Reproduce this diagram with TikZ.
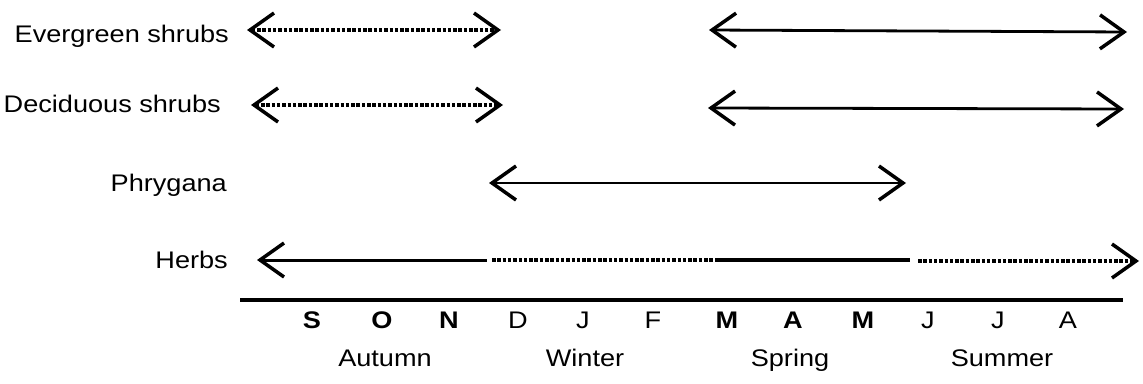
\documentclass[tikz,border=0pt]{standalone}
\usepackage{fontspec}
\newfontfamily\labfont[FakeStretch=1.13]{Liberation Sans}
\usetikzlibrary{arrows.meta}
\tikzset{
  barb/.tip={Straight Barb[length=24pt,width=34pt,line width=3.5pt]},
  period/.style={line width=2.8pt},
  uncertain/.style={line width=3.2pt,dash pattern=on 3.5pt off 1.8pt},
  peak/.style={line width=4.5pt},
  herbline/.style={line width=3pt},
  axisline/.style={line width=3.4pt},
  plant/.style={font=\labfont\fontsize{24}{28}\selectfont,anchor=base east,inner sep=0pt},
  month/.style={font=\labfont\fontsize{24}{28}\selectfont,anchor=base,inner sep=0pt},
  bmonth/.style={month,font=\labfont\bfseries\fontsize{24}{28}\selectfont},
  season/.style={month}
}
\begin{document}
\begin{tikzpicture}[x=1pt,y=-1pt]
\useasboundingbox (0,0) rectangle (1143,383);

% plant groups
\node[plant] (ever)  at (229,42)  {Evergreen shrubs};
\node[plant] (decid) at (221,112) {Deciduous shrubs};
\node[plant] (phry)  at (227,191) {Phrygana};
\node[plant] (herb)  at (228,268) {Herbs};

% evergreen shrubs
\coordinate (e1) at (247,30);  \coordinate (e2) at (501,30);
\coordinate (e3) at (709,30);  \coordinate (e4) at (1127,32);
\draw[uncertain,barb-barb] (e1) -- (e2);
\draw[period,barb-barb] (e3) -- (e4);

% deciduous shrubs
\coordinate (d1) at (251,105); \coordinate (d2) at (503,105);
\coordinate (d3) at (708,108); \coordinate (d4) at (1124,109);
\draw[uncertain,barb-barb] (d1) -- (d2);
\draw[period,barb-barb] (d3) -- (d4);

% phrygana
\coordinate (p1) at (489,183); \coordinate (p2) at (906,183);
\draw[period,barb-barb] (p1) -- (p2);

% herbs
\coordinate (h1) at (257,260); \coordinate (h2) at (487,260);
\coordinate (h3) at (492,260); \coordinate (h4) at (713,260);
\coordinate (h5) at (715,260); \coordinate (h6) at (910,260);
\coordinate (h7) at (918,261); \coordinate (h8) at (1139,261);
\draw[herbline,barb-] (h1) -- (h2);
\draw[uncertain] (h3) -- (h4);
\draw[peak] (h5) -- (h6);
\draw[uncertain,-barb] (h7) -- (h8);

% time axis
\coordinate (a1) at (240,300); \coordinate (a2) at (1123,300);
\draw[axisline] (a1) -- (a2);

% months
\node[bmonth] (mS)  at (312,328)  {S};
\node[bmonth] (mO)  at (382,328)  {O};
\node[bmonth] (mN)  at (449,328)  {N};
\node[month]  (mD)  at (518,328)  {D};
\node[month]  (mJa) at (583,328)  {J};
\node[month]  (mF)  at (653,328)  {F};
\node[bmonth] (mM)  at (727,328)  {M};
\node[bmonth] (mA)  at (793,328)  {A};
\node[bmonth] (mMy) at (863,328)  {M};
\node[month]  (mJn) at (928,328)  {J};
\node[month]  (mJl) at (998,328)  {J};
\node[month]  (mAu) at (1068,328) {A};

% seasons
\node[season] (autumn) at (385,366)  {Autumn};
\node[season] (winter) at (585,366)  {Winter};
\node[season] (spring) at (790,366)  {Spring};
\node[season] (summer) at (1002,366) {Summer};
\end{tikzpicture}
\end{document}
